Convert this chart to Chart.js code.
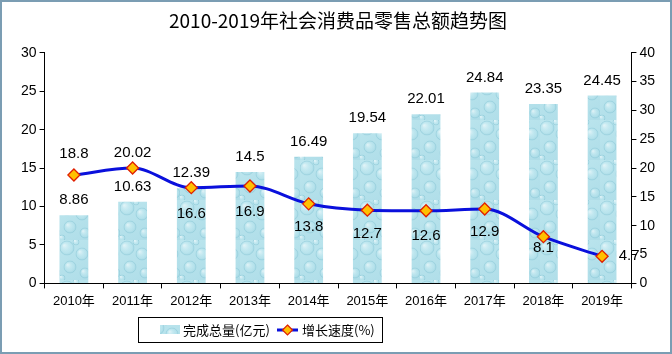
<!DOCTYPE html>
<html>
<head>
<meta charset="utf-8">
<script src="https://cdn.jsdelivr.net/npm/chart.js@4/dist/chart.umd.min.js"></script>
<style>
  body { margin: 0; background: #fff; }
  canvas { display: block; }
</style>
</head>
<body>
<canvas id="chart" width="672" height="354"></canvas>
<script>
const years = ['2010年', '2011年', '2012年', '2013年', '2014年', '2015年', '2016年', '2017年', '2018年', '2019年'];
const totals = [8.86, 10.63, 12.39, 14.5, 16.49, 19.54, 22.01, 24.84, 23.35, 24.45];
const growth = [18.8, 20.02, 16.6, 16.9, 13.8, 12.7, 12.6, 12.9, 8.1, 4.7];
const totalLabel = '完成总量(亿元)';
const growthLabel = '增长速度(%)';

// where each growth label sits relative to its marker
const growthLabelOffsets = [[0, -21], [0, -15], [0, 26], [0, 26], [0, 23], [0, 24], [0, 25], [0, 23], [0, 11], [27, 0]];

const FONT = "'Liberation Sans', 'Noto Sans CJK SC', sans-serif";
const CJK = "'Noto Sans CJK SC', sans-serif";

// water drop texture for the bars
function makeDropPattern() {
  const c = document.createElement('canvas');
  c.width = 30; c.height = 40;
  const g = c.getContext('2d');
  const bg = g.createLinearGradient(0, 0, 30, 40);
  bg.addColorStop(0, '#bde6ee');
  bg.addColorStop(1, '#aedde8');
  g.fillStyle = bg;
  g.fillRect(0, 0, 30, 40);
  const drops = [[7, 8, 7], [22, 14, 6], [10, 27, 6], [25, 33, 5], [2, 38, 3], [16, 2, 3]];
  drops.forEach(([x, y, r]) => {
    const rg = g.createRadialGradient(x - r * 0.4, y - r * 0.4, 0.5, x, y, r);
    rg.addColorStop(0, 'rgba(255,255,255,0.55)');
    rg.addColorStop(0.7, 'rgba(200,238,245,0.15)');
    rg.addColorStop(1, 'rgba(130,195,212,0.35)');
    g.fillStyle = rg;
    g.beginPath(); g.arc(x, y, r, 0, Math.PI * 2); g.fill();
    g.strokeStyle = 'rgba(120,188,205,0.4)';
    g.lineWidth = 0.7;
    g.stroke();
  });
  return g.createPattern(c, 'repeat');
}

const ctx = document.getElementById('chart').getContext('2d');
const dropPattern = makeDropPattern();

const framePlugin = {
  id: 'frame',
  beforeDraw(chart) {
    const c = chart.ctx;
    c.save();
    c.fillStyle = '#fff';
    c.fillRect(0, 0, chart.width, chart.height);
    c.strokeStyle = '#7b9db3';
    c.lineWidth = 2;
    c.strokeRect(1, 1, chart.width - 2, chart.height - 2);
    c.restore();
  },
  afterDatasetsDraw(chart) {
    const c = chart.ctx;
    c.save();
    c.fillStyle = '#000';
    c.font = '15px ' + FONT;
    c.textAlign = 'center';
    c.textBaseline = 'middle';
    chart.getDatasetMeta(0).data.forEach((bar, i) => {
      c.fillText(String(totals[i]), bar.x, bar.y - 15);
    });
    chart.getDatasetMeta(1).data.forEach((pt, i) => {
      const [dx, dy] = growthLabelOffsets[i];
      c.fillText(String(growth[i]), pt.x + dx, pt.y + dy);
    });
    c.restore();
  },
  afterDraw(chart) {
    const c = chart.ctx;
    c.save();
    // legend box
    c.strokeStyle = '#000';
    c.lineWidth = 1;
    c.strokeRect(138.5, 317.5, 244, 25);
    c.fillStyle = dropPattern;
    c.fillRect(160, 325, 20, 9);
    c.fillStyle = '#000';
    c.font = '13px ' + CJK;
    c.textBaseline = 'middle';
    c.textAlign = 'left';
    c.fillText(totalLabel, 183, 330);
    c.strokeStyle = '#0a10dc';
    c.lineWidth = 3;
    c.beginPath(); c.moveTo(277, 330); c.lineTo(298, 330); c.stroke();
    c.fillStyle = '#ffc000';
    c.strokeStyle = '#e02000';
    c.lineWidth = 1.2;
    c.beginPath();
    c.moveTo(287.5, 325); c.lineTo(292.5, 330); c.lineTo(287.5, 335); c.lineTo(282.5, 330); c.closePath();
    c.fill(); c.stroke();
    c.fillStyle = '#000';
    c.fillText(growthLabel, 302, 330);
    c.restore();
  }
};

new Chart(ctx, {
  data: {
    labels: years,
    datasets: [
      {
        type: 'bar',
        label: totalLabel,
        data: totals,
        yAxisID: 'y',
        backgroundColor: dropPattern,
        borderWidth: 0,
        categoryPercentage: 1,
        barPercentage: 0.49,
        order: 2,
      },
      {
        type: 'line',
        label: growthLabel,
        data: growth,
        yAxisID: 'y1',
        borderColor: '#0a10dc',
        borderWidth: 3,
        tension: 0.4,
        cubicInterpolationMode: 'monotone',
        pointStyle: 'rectRot',
        pointRadius: 6,
        pointBackgroundColor: '#ffc000',
        pointBorderColor: '#e02000',
        pointBorderWidth: 1.3,
        fill: false,
        order: 1,
      },
    ],
  },
  options: {
    responsive: false,
    animation: false,
    layout: { padding: { left: 18, right: 14, bottom: 40, top: 0 } },
    plugins: {
      legend: { display: false },
      tooltip: { enabled: false },
      title: {
        display: true,
        text: '2010-2019年社会消费品零售总额趋势图',
        color: '#000',
        font: { family: CJK, size: 19, weight: 'normal' },
        padding: { top: 9, bottom: 21 },
      },
    },
    scales: {
      x: {
        offset: true,
        border: { color: '#000', width: 1 },
        grid: { drawOnChartArea: false, drawTicks: true, tickLength: 5, color: '#000', offset: true },
        ticks: { color: '#000', font: { family: FONT, size: 13 }, padding: 5, maxRotation: 0, autoSkip: false },
      },
      y: {
        position: 'left',
        min: 0,
        max: 30,
        border: { color: '#000', width: 1 },
        grid: { drawOnChartArea: false, drawTicks: true, tickLength: 5, color: '#000' },
        ticks: { stepSize: 5, color: '#000', font: { family: FONT, size: 14 }, padding: 3 },
      },
      y1: {
        position: 'right',
        min: 0,
        max: 40,
        border: { color: '#000', width: 1 },
        grid: { drawOnChartArea: false, drawTicks: true, tickLength: 5, color: '#000' },
        ticks: { stepSize: 5, color: '#000', font: { family: FONT, size: 14 }, padding: 3 },
      },
    },
  },
  plugins: [framePlugin],
});
</script>
</body>
</html>
